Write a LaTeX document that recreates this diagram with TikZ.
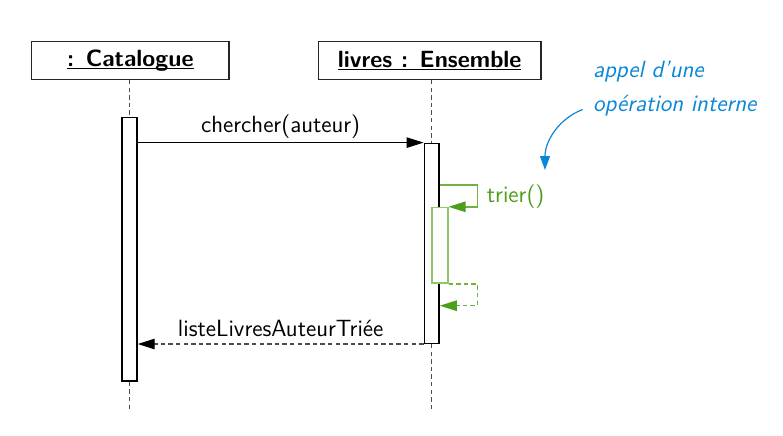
\documentclass[tikz,border=0pt]{standalone}
\usepackage{fontspec}
\usetikzlibrary{arrows.meta}
\definecolor{noteblue}{RGB}{10,135,215}
\definecolor{callgreen}{RGB}{78,158,28}
\definecolor{linegreen}{RGB}{115,178,65}
\definecolor{actgreen}{RGB}{145,198,105}
\newcommand{\objul}[1]{\setbox0=\hbox{#1}\leavevmode\rlap{\rule[-1.4pt]{\wd0}{0.75pt}}\box0}
\tikzset{
  every node/.style={font=\sffamily\fontsize{11.75}{14}\selectfont},
  objbox/.style={draw=black!85, line width=0.7pt, fill=white, inner sep=0pt, font=\sffamily\bfseries\fontsize{11.75}{14}\selectfont},
  actbox/.style={draw=black, line width=0.7pt, fill=white, inner sep=0pt},
  gactbox/.style={draw=actgreen, line width=0.8pt, fill=white, inner sep=0pt},
  lifeline/.style={draw=black!70, line width=0.6pt, dash pattern=on 2.2pt off 1.6pt},
  callmsg/.style={draw=black, line width=0.6pt, -{Triangle[length=8.5pt,width=5.2pt]}},
  retmsg/.style={draw=black!70, line width=0.6pt, dash pattern=on 2.2pt off 1.6pt, -{Triangle[length=8.5pt,width=5.2pt,fill=black,color=black]}},
  selfcall/.style={draw=linegreen, line width=0.7pt, -{Triangle[length=8.5pt,width=5.2pt,fill=callgreen,color=callgreen]}},
  selfret/.style={draw=linegreen, line width=0.7pt, dash pattern=on 2.2pt off 1.6pt, -{Triangle[length=8.5pt,width=5.2pt,fill=callgreen,color=callgreen]}},
  notetext/.style={text=noteblue, font=\sffamily\itshape\fontsize{11.75}{14}\selectfont, anchor=west, inner sep=0pt},
  notearrow/.style={draw=noteblue, line width=0.6pt, -{Triangle[length=7pt,width=5pt]}},
}
\begin{document}
\begin{tikzpicture}[x=0.5pt,y=-0.5pt]
\useasboundingbox[fill=white] (0,0) rectangle (783,435);
% objects
\node[objbox, minimum width=98.7pt, minimum height=18.8pt] (b1) at (130.3,60.5) {\objul{: Catalogue}};
\node[objbox, minimum width=111.3pt, minimum height=18.8pt] (b2) at (429.7,60.5) {\objul{livres : Ensemble}};
% lifeline ends
\coordinate (e1) at (129.5,410);
\coordinate (e2) at (431.7,410);
% activations
\node[actbox, minimum width=7.5pt, minimum height=131.8pt] (a1) at (129.5,249.2) {};
\node[actbox, minimum width=7.35pt, minimum height=100pt] (a2) at (431.7,243.3) {};
\path[lifeline] (b1.south -| a1.north) -- (a1.north);
\path[lifeline] (a1.south) -- (e1);
\path[lifeline] (b2.south -| a2.north) -- (a2.north);
\path[lifeline] (a2.south) -- (e2);
\node[gactbox, minimum width=8pt, minimum height=37.7pt] (g) at (439.7,245.3) {};
% messages
\path[callmsg] (a1.east |- a2.north west) -- node[above=-1.4pt] {chercher(auteur)} (a2.north west);
\coordinate (s1) at (477.3,185);
\path[selfcall] (a2.east |- s1) -- (s1) |- (g.north east);
\node[text=callgreen, anchor=west, inner sep=0pt] (tr) at (486.5,197) {trier()};
\coordinate (r1) at (477.3,305.7);
\path[selfret] (g.south east) -| (r1) -- (a2.east |- r1);
\path[retmsg] (a2.south west) -- node[above=0pt] {listeLivresAuteurTriée} (a1.east |- a2.south west);
% note
\node[notetext] (n1) at (592.7,72) {appel d'une};
\node[notetext] (n2) at (592.7,105.5) {opération interne};
\coordinate (nt) at (545,170);
\path[notearrow] ([xshift=-5pt,yshift=-2pt]n2.west) .. controls (560,118) and (545,140) .. (nt);
\end{tikzpicture}
\end{document}
